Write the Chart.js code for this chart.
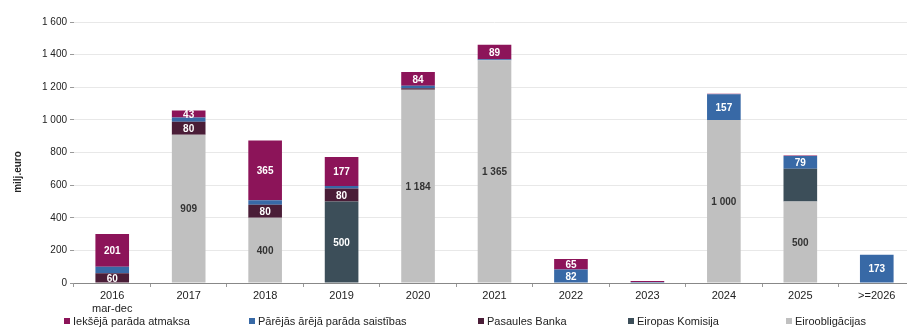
<!DOCTYPE html>
<html>
<head>
<meta charset="utf-8">
<script src="https://cdn.jsdelivr.net/npm/chart.js@4.4.1/dist/chart.umd.min.js"></script>
<style>
  html, body { margin: 0; padding: 0; background: #fff; overflow: hidden; }
  #wrap { position: relative; width: 916px; height: 329px; }
  #legend { position: absolute; left: 0; top: 315px; width: 907px; height: 14px;
            font: 11px "Liberation Sans", Arial, sans-serif; color: #222; }
  #legend span.item { position: absolute; top: 0; white-space: nowrap; }
  #legend i { display: inline-block; width: 6px; height: 6px; margin-right: 3px; vertical-align: 1px; }
</style>
</head>
<body>
<div id="wrap"><canvas id="myChart"></canvas></div>
<div id="legend"></div>
<script>
// categories (years)
const categories = [['2016', 'mar-dec'], '2017', '2018', '2019', '2020', '2021', '2022', '2023', '2024', '2025', '>=2026'];

// series, bottom of stack first
const eiroobligacijas = [0, 909, 400, 0, 1184, 1365, 0, 0, 1000, 500, 0];
const eiropasKomisija = [0, 0, 0, 500, 0, 0, 0, 0, 0, 200, 0];
const pasaulesBanka = [60, 80, 80, 80, 10, 0, 0, 0, 0, 0, 0];
const parejasSaistibas = [40, 25, 28, 15, 15, 6, 82, 6, 157, 79, 173];
const iekshejaAtmaksa = [201, 43, 365, 177, 84, 89, 65, 6, 3, 3, 0];

const yTicks = [0, 200, 400, 600, 800, 1000, 1200, 1400, 1600];

// segments that have no number in the original
const hiddenLabels = ['Eiropas Komisija|2025', 'Pārējās ārējā parāda saistības|2016 mar-dec'];

const fmt = v => String(v).replace(/\B(?=(\d{3})+(?!\d))/g, ' ');
const FONT = '"Liberation Sans", Arial, sans-serif';

const ctx = document.getElementById('myChart');

const segLabels = {
  id: 'segLabels',
  afterDatasetsDraw(chart) {
    const c = chart.ctx;
    c.save();
    c.font = 'bold 10px ' + FONT;
    c.textAlign = 'center';
    c.textBaseline = 'middle';
    chart.data.datasets.forEach((ds, i) => {
      const meta = chart.getDatasetMeta(i);
      meta.data.forEach((bar, j) => {
        const v = ds.data[j];
        if (v < 40) return;
        const cat = [].concat(categories[j]).join(' ');
        if (hiddenLabels.includes(ds.label + '|' + cat)) return;
        c.fillStyle = ds.labelColor;
        c.fillText(fmt(v), bar.x, (bar.y + bar.base) / 2 + 1);
      });
    });
    c.restore();
  }
};

// y axis title, sits a bit below the middle like in the source
const yTitle = {
  id: 'yTitle',
  afterDraw(chart) {
    const c = chart.ctx;
    c.save();
    c.translate(18, 172);
    c.rotate(-Math.PI / 2);
    c.font = 'bold 10px ' + FONT;
    c.fillStyle = '#222';
    c.textAlign = 'center';
    c.textBaseline = 'middle';
    c.fillText('milj.euro', 0, 0);
    c.restore();
  }
};

const chart = new Chart(ctx, {
  type: 'bar',
  data: {
    labels: categories,
    datasets: [
      { label: 'Eiroobligācijas', data: eiroobligacijas, backgroundColor: '#c0c0c0', labelColor: '#333' },
      { label: 'Eiropas Komisija', data: eiropasKomisija, backgroundColor: '#3c4e59', labelColor: '#fff' },
      { label: 'Pasaules Banka', data: pasaulesBanka, backgroundColor: '#4a1d37', labelColor: '#fff' },
      { label: 'Pārējās ārējā parāda saistības', data: parejasSaistibas, backgroundColor: '#3869a6', labelColor: '#fff' },
      { label: 'Iekšējā parāda atmaksa', data: iekshejaAtmaksa, backgroundColor: '#8c1459', labelColor: '#fff' }
    ]
  },
  options: {
    responsive: true,
    maintainAspectRatio: false,
    animation: false,
    datasets: { bar: { categoryPercentage: 1, barPercentage: 0.44 } },
    layout: { padding: { top: 22, left: 12, right: 1, bottom: 16 } },
    plugins: {
      tooltip: { enabled: false },
      legend: { display: false }
    },
    scales: {
      x: {
        stacked: true,
        grid: { display: true, drawOnChartArea: false, offset: true, tickLength: 4, color: '#999' },
        border: { color: '#888' },
        ticks: {
          color: '#222',
          padding: 2,
          maxRotation: 0,
          font: { family: FONT, size: 11 }
        },
        afterFit(scale) { scale.height = 30; }
      },
      y: {
        stacked: true,
        min: 0,
        max: 1600,
        afterBuildTicks(scale) { scale.ticks = yTicks.map(v => ({ value: v })); },
        grid: { color: '#e8e8e8', tickLength: 4, tickColor: '#999' },
        border: { display: false },
        ticks: {
          color: '#222',
          padding: 3,
          font: { family: FONT, size: 10 },
          callback: v => fmt(v)
        },
        afterFit(scale) { scale.width = 62; }
      }
    }
  },
  plugins: [segLabels, yTitle]
});

// legend under the chart, same order as the source (top of stack first)
const legendX = [64, 249, 478, 628, 786];
const legend = document.getElementById('legend');
chart.data.datasets.slice().reverse().forEach((ds, k) => {
  const item = document.createElement('span');
  item.className = 'item';
  item.style.left = legendX[k] + 'px';
  item.innerHTML = '<i style="background:' + ds.backgroundColor + '"></i>' + ds.label;
  legend.appendChild(item);
});
</script>
</body>
</html>
